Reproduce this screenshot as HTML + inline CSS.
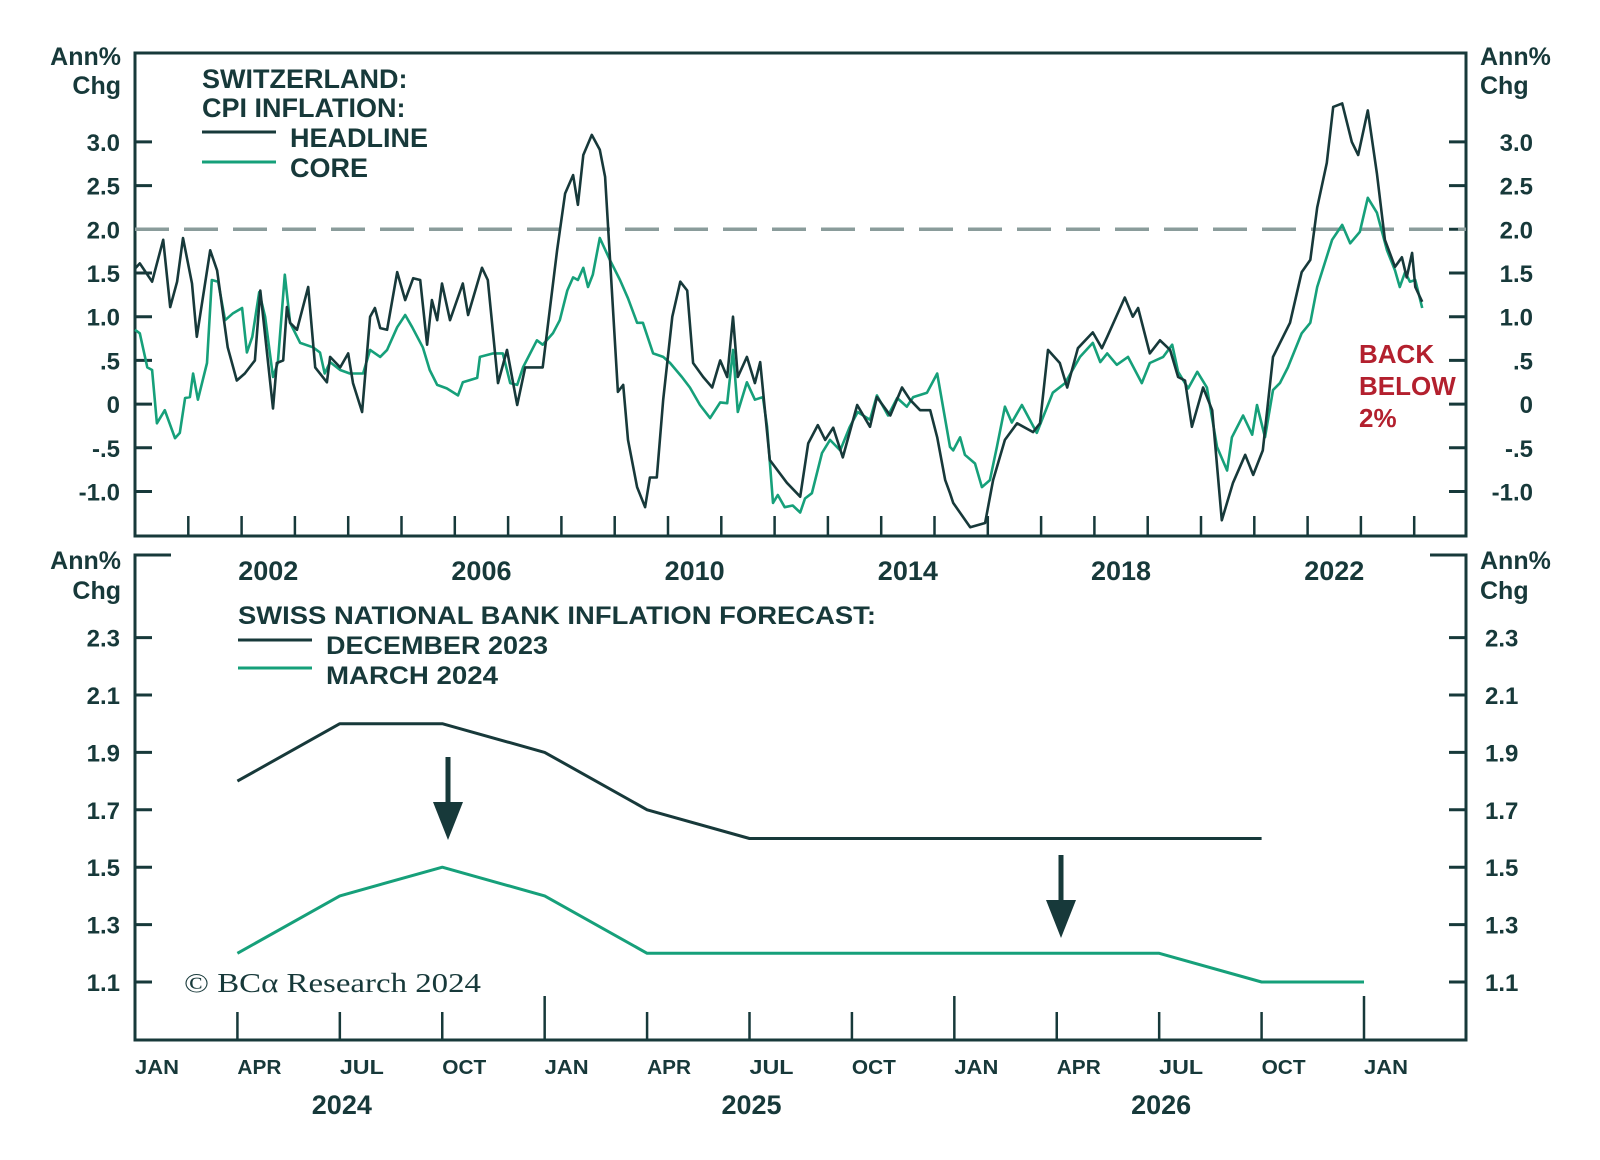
<!DOCTYPE html>
<html><head><meta charset="utf-8">
<style>
html,body{margin:0;padding:0;background:#fff;}
svg{display:block;}
text{font-family:"Liberation Sans",Arial,sans-serif;fill:#17393a;font-weight:bold;}
</style></head>
<body>
<svg id="chart" width="1600" height="1160" viewBox="0 0 1600 1160" xmlns="http://www.w3.org/2000/svg">
  <g id="topPanel"></g>
  <g id="botPanel"></g>
</svg>
<script>
// ---- Top panel data (Swiss CPI, annual % change) ----
const headlineT=[2000.0,2000.09,2000.32,2000.53,2000.66,2000.79,2000.9,2001.07,2001.16,2001.41,2001.54,2001.74,2001.91,2002.06,2002.25,2002.35,2002.59,2002.66,2002.78,2002.85,2002.91,2003.04,2003.25,2003.38,2003.6,2003.66,2003.85,2004.0,2004.09,2004.26,2004.41,2004.5,2004.6,2004.73,2004.92,2005.07,2005.22,2005.35,2005.48,2005.57,2005.67,2005.76,2005.91,2006.15,2006.25,2006.51,2006.62,2006.81,2006.98,2007.17,2007.32,2007.65,2007.92,2008.07,2008.22,2008.31,2008.41,2008.57,2008.72,2008.82,2008.91,2009.06,2009.16,2009.25,2009.42,2009.57,2009.66,2009.79,2009.91,2010.08,2010.23,2010.36,2010.47,2010.66,2010.83,2010.98,2011.11,2011.22,2011.31,2011.48,2011.63,2011.73,2011.91,2012.23,2012.48,2012.63,2012.81,2012.95,2013.1,2013.28,2013.55,2013.79,2013.92,2014.17,2014.39,2014.54,2014.73,2014.92,2015.05,2015.2,2015.29,2015.35,2015.67,2015.95,2016.1,2016.32,2016.55,2016.85,2016.98,2017.13,2017.35,2017.49,2017.69,2017.97,2018.14,2018.24,2018.57,2018.72,2018.82,2019.04,2019.23,2019.42,2019.57,2019.7,2019.83,2020.04,2020.21,2020.39,2020.6,2020.83,2020.98,2021.16,2021.35,2021.67,2021.89,2022.05,2022.18,2022.36,2022.48,2022.65,2022.83,2022.95,2023.13,2023.3,2023.45,2023.64,2023.77,2023.86,2023.96,2024.02,2024.15];
const headlineV=[1.55,1.61,1.4,1.88,1.11,1.4,1.9,1.38,0.77,1.76,1.53,0.65,0.27,0.35,0.5,1.3,-0.05,0.47,0.5,1.11,0.93,0.85,1.34,0.42,0.25,0.54,0.42,0.58,0.24,-0.09,1.0,1.1,0.87,0.85,1.51,1.19,1.44,1.42,0.68,1.19,0.96,1.38,0.96,1.38,1.02,1.56,1.42,0.24,0.62,-0.01,0.42,0.42,1.76,2.41,2.62,2.28,2.85,3.08,2.91,2.6,1.68,0.14,0.22,-0.41,-0.95,-1.18,-0.84,-0.84,0.05,1.0,1.4,1.3,0.47,0.31,0.19,0.5,0.31,1.0,0.31,0.54,0.24,0.48,-0.64,-0.9,-1.06,-0.45,-0.24,-0.41,-0.27,-0.61,-0.01,-0.26,0.08,-0.13,0.19,0.05,-0.07,-0.07,-0.38,-0.87,-1.02,-1.13,-1.41,-1.36,-0.87,-0.41,-0.22,-0.32,-0.22,0.62,0.47,0.19,0.64,0.82,0.64,0.77,1.22,1.0,1.1,0.58,0.73,0.62,0.31,0.27,-0.26,0.19,-0.07,-1.33,-0.9,-0.58,-0.81,-0.53,0.54,0.93,1.51,1.65,2.25,2.76,3.4,3.44,3.0,2.85,3.36,2.64,1.88,1.57,1.68,1.45,1.73,1.34,1.17];
const coreT=[2000.0,2000.09,2000.23,2000.32,2000.41,2000.56,2000.75,2000.84,2000.94,2001.03,2001.09,2001.18,2001.35,2001.44,2001.56,2001.69,2001.84,2002.01,2002.1,2002.2,2002.33,2002.44,2002.59,2002.68,2002.81,2002.91,2003.1,2003.34,2003.47,2003.56,2003.66,2003.85,2004.03,2004.28,2004.41,2004.6,2004.73,2004.92,2005.07,2005.2,2005.4,2005.53,2005.67,2005.85,2006.06,2006.15,2006.42,2006.47,2006.72,2006.9,2007.04,2007.17,2007.28,2007.54,2007.65,2007.84,2007.97,2008.11,2008.22,2008.31,2008.41,2008.5,2008.59,2008.72,2008.91,2009.1,2009.25,2009.42,2009.53,2009.72,2009.91,2010.04,2010.26,2010.41,2010.6,2010.79,2010.98,2011.11,2011.22,2011.31,2011.48,2011.63,2011.78,2011.86,2011.97,2012.06,2012.19,2012.34,2012.48,2012.57,2012.7,2012.89,2013.04,2013.23,2013.41,2013.56,2013.79,2013.92,2014.13,2014.3,2014.48,2014.6,2014.86,2015.05,2015.29,2015.35,2015.48,2015.57,2015.76,2015.89,2016.04,2016.17,2016.32,2016.45,2016.64,2016.92,2017.22,2017.45,2017.73,2017.97,2018.11,2018.24,2018.42,2018.63,2018.89,2019.04,2019.29,2019.46,2019.57,2019.76,2019.93,2020.11,2020.3,2020.49,2020.58,2020.79,2020.96,2021.05,2021.2,2021.35,2021.48,2021.63,2021.89,2022.05,2022.18,2022.46,2022.65,2022.8,2022.98,2023.13,2023.3,2023.49,2023.64,2023.73,2023.83,2023.92,2024.02,2024.15];
const coreV=[0.85,0.81,0.42,0.39,-0.22,-0.07,-0.39,-0.33,0.07,0.08,0.35,0.05,0.47,1.42,1.4,0.96,1.04,1.1,0.59,0.77,1.28,1.0,0.31,0.47,1.48,0.93,0.7,0.65,0.59,0.35,0.48,0.39,0.35,0.35,0.62,0.54,0.62,0.88,1.02,0.88,0.65,0.39,0.22,0.18,0.1,0.25,0.3,0.54,0.58,0.58,0.24,0.22,0.42,0.73,0.68,0.81,0.96,1.3,1.45,1.42,1.56,1.34,1.48,1.9,1.65,1.42,1.21,0.93,0.93,0.58,0.54,0.47,0.31,0.19,-0.01,-0.16,0.02,0.01,0.62,-0.09,0.25,0.05,0.08,-0.26,-1.13,-1.04,-1.18,-1.16,-1.24,-1.08,-1.02,-0.56,-0.41,-0.53,-0.26,-0.09,-0.18,0.1,-0.13,0.07,-0.03,0.08,0.13,0.35,-0.49,-0.53,-0.38,-0.58,-0.68,-0.95,-0.87,-0.49,-0.03,-0.21,-0.01,-0.33,0.13,0.24,0.54,0.7,0.48,0.58,0.45,0.54,0.24,0.47,0.54,0.68,0.37,0.18,0.37,0.19,-0.49,-0.76,-0.38,-0.13,-0.35,-0.01,-0.38,0.16,0.24,0.42,0.81,0.93,1.34,1.88,2.05,1.84,1.97,2.36,2.19,1.76,1.53,1.34,1.51,1.4,1.42,1.1];
const topTicks=[3.0,2.5,2.0,1.5,1.0,0.5,0,-0.5,-1.0];
const topTickLabels=["3.0","2.5","2.0","1.5","1.0",".5","0","-.5","-1.0"];
const yearLabels=[2002,2006,2010,2014,2018,2022];
const targetLevel=2.0;

// ---- Bottom panel data (SNB forecasts) ----
const quarterLabels=["JAN","APR","JUL","OCT","JAN","APR","JUL","OCT","JAN","APR","JUL","OCT","JAN"];
const forecastYears=["2024","2025","2026"];
const dec2023=[null,1.8,2.0,2.0,1.9,1.7,1.6,1.6,1.6,1.6,1.6,1.6];
const mar2024=[null,1.2,1.4,1.5,1.4,1.2,1.2,1.2,1.2,1.2,1.2,1.1,1.1];
const botTicks=[2.3,2.1,1.9,1.7,1.5,1.3,1.1];
const botTickLabels=["2.3","2.1","1.9","1.7","1.5","1.3","1.1"];

const NS="http://www.w3.org/2000/svg";
const DARK="#17393a", GREEN="#16a07a", RED="#b3202e";
function mk(parent,tag,attrs,txt){const el=document.createElementNS(NS,tag);for(const k in attrs)el.setAttribute(k,attrs[k]);if(txt!==undefined)el.textContent=txt;parent.appendChild(el);return el;}

// ===== TOP PANEL =====
const topG=document.getElementById('topPanel');
const TL=135,TR=1466,TT=53,TB=536;
const tx=t=>TL+(t-2000)*53.3;
const ty=v=>229.3-(v-2)*87.4;

let e;
e=mk(topG,'rect',{x:TL,y:TT,width:TR-TL,height:TB-TT,fill:'none',stroke:DARK,'stroke-width':3});



topTicks.forEach((v,i)=>{
  const y=ty(v);
  e=mk(topG,'line',{x1:TL,x2:TL+17,y1:y,y2:y,stroke:DARK,'stroke-width':3});
  
  
  e=mk(topG,'line',{x1:TR-17,x2:TR,y1:y,y2:y,stroke:DARK,'stroke-width':3});
  
  
  e=mk(topG,'text',{x:120,y:y+9,'text-anchor':'end','font-size':24},topTickLabels[i]);
  
  
  e=mk(topG,'text',{x:1533,y:y+9,'text-anchor':'end','font-size':24},topTickLabels[i]);
  
  
});
for(let yr=2001;yr<=2024;yr++){
  e=mk(topG,'line',{x1:tx(yr),x2:tx(yr),y1:TB,y2:TB-20,stroke:DARK,'stroke-width':2.5});
  
  
}
yearLabels.forEach(yr=>{
  e=mk(topG,'text',{x:tx(yr+0.5),y:580,'text-anchor':'middle','font-size':27},String(yr));
  
  
});
e=mk(topG,'line',{x1:TL,x2:TR,y1:ty(targetLevel),y2:ty(targetLevel),stroke:'#8a9c9b','stroke-width':3.5,'stroke-dasharray':'34 15'});



function poly(parent,T,V,xf,yf,color,name,w){
  const pts=T.map((t,i)=>xf(t).toFixed(1)+','+yf(V[i]).toFixed(1)).join(' ');
  const p=mk(parent,'polyline',{points:pts,fill:'none',stroke:color,'stroke-width':w,'stroke-linejoin':'round'});
  
  
}
poly(topG,coreT,coreV,tx,ty,GREEN,'core-cpi-line',2.6);
poly(topG,headlineT,headlineV,tx,ty,DARK,'headline-cpi-line',2.6);

[['Ann%',65],['Chg',94]].forEach(([s,y])=>{
  e=mk(topG,'text',{x:121,y:y,'text-anchor':'end','font-size':25},s);
  
  
  e=mk(topG,'text',{x:1480,y:y,'font-size':25},s);
  
  
});
e=mk(topG,'text',{x:202,y:88,'font-size':27},'SWITZERLAND:');


e=mk(topG,'text',{x:202,y:117,'font-size':27},'CPI INFLATION:');


e=mk(topG,'line',{x1:202,x2:276,y1:132,y2:132,stroke:DARK,'stroke-width':3});


e=mk(topG,'text',{x:290,y:147,'font-size':27},'HEADLINE');


e=mk(topG,'line',{x1:202,x2:276,y1:162,y2:162,stroke:GREEN,'stroke-width':3});


e=mk(topG,'text',{x:290,y:177,'font-size':27},'CORE');


[['BACK',363],['BELOW',395],['2%',427]].forEach(([s,y])=>{
  e=mk(topG,'text',{x:1359,y:y,'font-size':26,style:'fill:'+RED},s);
  
  
});

// ===== BOTTOM PANEL =====
const botG=document.getElementById('botPanel');
const BL=135,BR=1466,BT=555,BB=1040;
const bx=i=>BL+i*(1364-BL)/12;
const by=v=>982-(v-1.1)*287;

e=mk(botG,'path',{d:`M${BL+36},${BT} H${BL} V${BB} H${BR} V${BT} H${BR-36}`,fill:'none',stroke:DARK,'stroke-width':3});


botTicks.forEach((v,i)=>{
  const y=by(v);
  e=mk(botG,'line',{x1:BL,x2:BL+17,y1:y,y2:y,stroke:DARK,'stroke-width':3});
  
  
  e=mk(botG,'line',{x1:BR-17,x2:BR,y1:y,y2:y,stroke:DARK,'stroke-width':3});
  
  
  e=mk(botG,'text',{x:120,y:y+9,'text-anchor':'end','font-size':24},botTickLabels[i]);
  
  
  e=mk(botG,'text',{x:1485,y:y+9,'font-size':24},botTickLabels[i]);
  
  
});
quarterLabels.forEach((s,i)=>{
  if(i>0){
    const tall=(i%4===0);
    e=mk(botG,'line',{x1:bx(i),x2:bx(i),y1:BB,y2:BB-(tall?44:28),stroke:DARK,'stroke-width':2.5});
    
    
  }
  e=mk(botG,'text',{x:bx(i),y:1074,'font-size':20,textLength:44,lengthAdjust:'spacingAndGlyphs'},s);
  
  
});
forecastYears.forEach((s,i)=>{
  e=mk(botG,'text',{x:bx(2+4*i)+2,y:1114,'text-anchor':'middle','font-size':27},s);
  
  
});
function fline(vals,color,name){
  const pts=[];vals.forEach((v,i)=>{if(v!==null)pts.push(bx(i).toFixed(1)+','+by(v).toFixed(1));});
  const p=mk(botG,'polyline',{points:pts.join(' '),fill:'none',stroke:color,'stroke-width':3,'stroke-linejoin':'round'});
  
  
}
fline(dec2023,DARK,'december-2023-forecast-line');
fline(mar2024,GREEN,'march-2024-forecast-line');

function arrow(x,y1,y2,name){
  const g=mk(botG,'g',{});
  
  
  mk(g,'line',{x1:x,x2:x,y1:y1,y2:y2-30,stroke:DARK,'stroke-width':5});
  mk(g,'polygon',{points:`${x-15},${y2-38} ${x+15},${y2-38} ${x},${y2}`,fill:DARK});
}
arrow(448,757,840,'downward-arrow-2024');
arrow(1061,855,938,'downward-arrow-2026');

[['Ann%',569],['Chg',599]].forEach(([s,y])=>{
  e=mk(botG,'text',{x:121,y:y,'text-anchor':'end','font-size':25},s);
  
  
  e=mk(botG,'text',{x:1480,y:y,'font-size':25},s);
  
  
});
e=mk(botG,'text',{x:238,y:624,'font-size':25,textLength:638,lengthAdjust:'spacingAndGlyphs'},'SWISS NATIONAL BANK INFLATION FORECAST:');


e=mk(botG,'line',{x1:238,x2:312,y1:640,y2:640,stroke:DARK,'stroke-width':3});


e=mk(botG,'text',{x:326,y:654,'font-size':25,textLength:222,lengthAdjust:'spacingAndGlyphs'},'DECEMBER 2023');


e=mk(botG,'line',{x1:238,x2:312,y1:668,y2:668,stroke:GREEN,'stroke-width':3});


e=mk(botG,'text',{x:326,y:684,'font-size':25,textLength:172,lengthAdjust:'spacingAndGlyphs'},'MARCH 2024');


e=mk(botG,'text',{x:184,y:992,'font-size':27,textLength:297,lengthAdjust:'spacingAndGlyphs',style:'font-family:"Liberation Serif",serif;font-weight:normal'},'© BCα Research 2024');


</script>
</body></html>
